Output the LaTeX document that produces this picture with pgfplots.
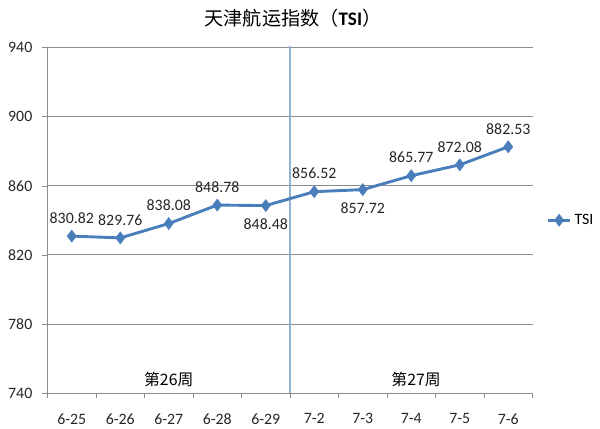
\documentclass[border=0pt]{standalone}
\usepackage{pgfplots}
\pgfplotsset{compat=1.18}
\usepackage{fontspec}
\setmainfont{Carlito}
\newfontfamily\cjk{Noto Sans CJK SC}
\definecolor{tsiblue}{HTML}{4A7EBB}
\definecolor{gridgray}{HTML}{8C8C8C}
\definecolor{sepblue}{HTML}{95B3D7}
\begin{document}
\begin{tikzpicture}
\begin{axis}[
  scale only axis,
  width=367.5pt, height=261.75pt,
  xmin=-0.5, xmax=9.5, ymin=740, ymax=940,
  axis x line=bottom, axis y line=left,
  axis line style={draw=gridgray, -},
  ytick={740,780,820,860,900,940},
  ymajorgrids, major grid style={draw=gridgray, line width=0.5pt},
  xtick={0,...,9},
  xticklabels={6-25,6-26,6-27,6-28,6-29,7-2,7-3,7-4,7-5,7-6},
  minor xtick={-0.5,0.5,...,9.5},
  major tick length=4pt, minor tick length=4pt,
  x tick style={draw=none},
  minor x tick style={draw=gridgray},
  y tick style={draw=gridgray},
  tick align=outside,
  /pgf/number format/assume math mode=true,
  ticklabel style={font=\fontsize{12}{14}\selectfont, text=black!85},
  xticklabel style={yshift=-8pt},
  yticklabel style={xshift=-4pt},
  clip=false,
  legend style={at={(rel axis cs:1.02,0.5)}, anchor=west, draw=none, fill=none,
    font=\fontsize{12}{14}\selectfont},
  legend cell align=left,
]
\draw[sepblue, line width=1.5pt] (axis cs:4.5,740) -- (axis cs:4.5,941);
\addplot[color=tsiblue, line width=2.2pt, mark=diamond*, mark size=4.5pt,
  mark options={fill=tsiblue, draw=tsiblue, line width=0.5pt},
  nodes near coords, point meta=explicit symbolic,
  every node near coord/.style={font=\fontsize{12}{14}\selectfont, text=black!85},
  visualization depends on={value \thisrow{pos} \as \lblpos},
  visualization depends on={value \thisrow{sh} \as \lblsh},
  nodes near coords style={anchor=\lblpos, yshift=\lblsh pt},
] table[meta=lbl] {
x y lbl pos sh
0 830.82 830.82 south 6
1 829.76 829.76 south 6
2 838.08 838.08 south 6
3 848.78 848.78 south 6
4 848.48 848.48 north -6
5 856.52 856.52 south 6
6 857.72 857.72 north -6
7 865.77 865.77 south 6
8 872.08 872.08 south 6
9 882.53 882.53 south 6
};
\addlegendentry{TSI}
\node[font=\cjk\fontsize{12}{14}\selectfont] at (axis cs:2,748) {第26周};
\node[font=\cjk\fontsize{12}{14}\selectfont] at (axis cs:7.1,748) {第27周};
\node[font=\fontsize{14.5}{16}\selectfont] at (rel axis cs:0.506,1.084) {{\cjk 天津航运指数（}\textbf{TSI}{\cjk ）}};
\coordinate (o) at (rel axis cs:0,0);
\end{axis}
\path (o) ++(-36pt,-24.75pt) rectangle ++(450pt,322.5pt);
\end{tikzpicture}
\end{document}
